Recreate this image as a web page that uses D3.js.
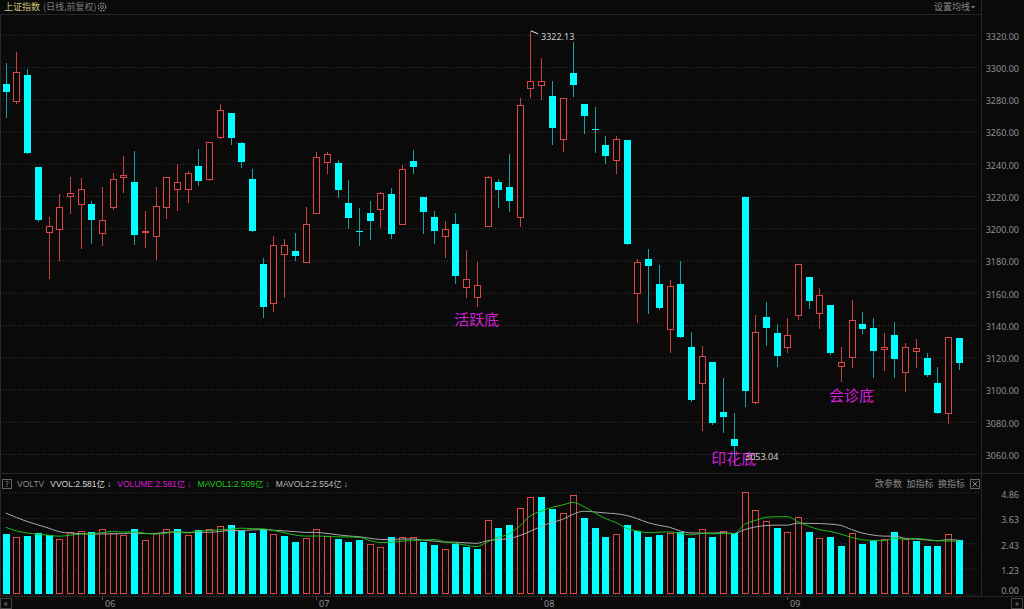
<!DOCTYPE html>
<html><head><meta charset="utf-8">
<script src="https://cdn.jsdelivr.net/npm/d3@7"></script>
<style>
html,body{margin:0;padding:0;background:#0a0a0a;overflow:hidden}
svg{display:block}
text{font-family:"Noto Sans CJK SC","Noto Sans",sans-serif}
.lat{font-family:"Liberation Sans","Noto Sans CJK SC",sans-serif}
</style></head><body>
<svg id="c" width="1024" height="609"></svg>
<script>
// ---- data (上证指数 daily) ----
const openP  = [3289.0,3278.4,3294.8,3237.7,3197.2,3199.1,3219.7,3214.8,3214.9,3196.6,
3212.7,3231.7,3228.6,3197.6,3194.9,3213.1,3223.9,3223.9,3238.3,3230.5,
3256.3,3271.0,3252.4,3230.1,3177.4,3153.2,3183.6,3185.6,3178.6,3209.0,
3241.0,3240.4,3215.6,3197.8,3209.0,3211.5,3220.8,3202.5,3241.4,3219.3,
3206.9,3194.9,3202.2,3163.5,3157.3,3201.3,3228.2,3225.5,3206.9,3286.9,
3288.4,3281.9,3254.9,3296.0,3276.8,3261.1,3251.2,3241.9,3254.4,3159.4,
3180.6,3165.0,3137.4,3165.3,3126.3,3103.6,3116.6,3086.0,3068.9,3219.3,
3091.8,3144.5,3134.6,3126.3,3145.9,3169.7,3147.3,3152.1,3114.3,3120.0,
3140.2,3138.0,3124.9,3133.5,3110.4,3123.8,3119.1,3103.6,3085.0,3131.5];
const highP  = [3302.0,3308.8,3298.3,3237.7,3206.9,3221.0,3231.3,3230.7,3216.4,3225.1,
3234.2,3244.3,3247.6,3210.6,3225.5,3231.7,3239.6,3235.2,3248.9,3253.0,
3276.8,3271.0,3253.0,3236.3,3181.1,3194.9,3192.9,3196.6,3213.1,3246.8,
3246.8,3242.0,3229.6,3212.1,3216.6,3222.0,3224.5,3239.0,3248.2,3219.3,
3210.4,3204.4,3209.0,3186.2,3179.0,3232.1,3230.1,3245.8,3280.3,3322.13,
3305.1,3291.0,3280.7,3315.0,3276.8,3274.7,3256.9,3256.9,3254.4,3180.6,
3186.7,3176.9,3167.6,3179.4,3135.2,3126.7,3116.6,3106.7,3085.0,3219.3,
3145.9,3153.8,3140.2,3143.9,3177.4,3169.7,3162.5,3152.1,3126.3,3155.2,
3147.8,3143.9,3134.9,3141.8,3128.7,3131.2,3122.2,3113.9,3132.5,3131.5];
const lowP   = [3268.5,3277.2,3246.4,3204.2,3169.1,3180.0,3209.4,3187.3,3190.4,3189.3,
3211.9,3222.0,3189.8,3188.3,3180.8,3206.3,3211.0,3216.0,3226.5,3229.7,
3255.5,3251.8,3237.9,3198.0,3144.5,3148.4,3157.3,3180.0,3178.6,3209.0,
3234.2,3219.3,3200.1,3189.3,3193.1,3200.7,3193.5,3202.2,3234.2,3196.6,
3190.4,3181.7,3166.0,3157.3,3151.5,3201.1,3213.1,3210.6,3201.3,3280.9,
3279.9,3252.0,3247.6,3281.7,3259.0,3247.2,3240.4,3234.2,3189.8,3141.8,
3147.3,3149.8,3123.2,3132.3,3092.5,3074.6,3078.2,3073.6,3053.04,3089.7,
3091.2,3127.3,3114.3,3123.2,3143.6,3150.5,3137.7,3121.6,3105.0,3113.9,
3134.6,3107.3,3111.8,3107.7,3099.0,3113.9,3108.1,3085.3,3079.1,3112.2];
const closeP = [3284.0,3296.4,3246.6,3204.8,3201.3,3212.7,3221.4,3223.9,3204.6,3204.7,
3230.1,3232.6,3195.7,3198.0,3213.5,3231.5,3228.6,3233.8,3229.2,3253.0,
3273.2,3255.9,3240.6,3198.0,3151.1,3189.6,3189.3,3182.7,3202.2,3243.7,
3245.6,3223.4,3205.9,3197.4,3204.2,3221.4,3196.3,3236.3,3237.9,3210.0,
3198.0,3199.1,3170.1,3168.1,3164.3,3231.7,3223.4,3216.6,3276.2,3291.2,
3291.0,3262.1,3280.7,3288.4,3269.2,3260.8,3244.7,3255.1,3189.8,3178.6,
3176.5,3150.5,3163.9,3132.3,3093.2,3120.5,3078.8,3082.9,3064.9,3099.0,
3135.6,3137.7,3120.5,3133.3,3177.4,3154.6,3158.1,3122.6,3117.0,3142.8,
3137.4,3123.6,3126.3,3118.5,3126.3,3125.3,3108.9,3085.3,3132.5,3116.0];
// volume (亿)
const volumes = [2.85,2.69,2.75,2.88,2.80,2.60,2.93,3.01,2.93,3.10,
2.88,2.79,3.07,2.58,2.91,3.10,3.10,2.79,3.02,3.10,
3.24,3.26,3.01,2.91,3.07,2.83,2.74,2.47,2.64,3.10,
2.75,2.61,2.45,2.55,2.36,2.23,2.71,2.72,2.69,2.48,
2.34,2.14,2.39,2.24,2.14,3.50,3.15,3.26,4.08,4.59,
4.59,4.05,3.83,4.69,3.59,3.15,2.69,2.85,3.29,3.01,
2.72,2.81,2.91,2.93,2.66,3.07,2.72,2.98,2.91,4.86,
3.99,3.47,3.12,2.93,3.64,2.93,2.66,2.69,2.29,2.88,
2.36,2.50,2.61,2.93,2.61,2.52,2.29,2.29,2.85,2.581];
// volumes of the days just before the visible window (used by the moving averages)
const prevVolumes = [4.85,4.65,4.45,4.35,4.35,3.55,3.25,3.15,3.05];
const priceTicks = [3060,3080,3100,3120,3140,3160,3180,3200,3220,3240,3260,3280,3300,3320];
const volTicks = [0,1.23,2.43,3.63,4.86];
const monthLabels = ["06","07","08","09"];
const monthStart = [9,29,50,73];
const bottomNames = ["活跃底","印花底","会诊底"];
const bottomIdx = [44,68,79];
const bottomPrice = [3143,3056.7,3095.7];
const highLabel = "3322.13", lowLabel = "3053.04";
const legendText = ["VOLTV","VVOL:2.581亿","VOLUME:2.581亿","MAVOL1:2.509亿","MAVOL2:2.554亿"];
const legendColor = ["#8a8a8a","#d8d8d8","#d21fd2","#1fc41f","#b8b8b8"];

// ---- drawing ----
const W=1024,H=609,BG="#0a0a0a";
const RED="#dc4646", RED_W="#c84040", CYAN="#00ffff", CYAN_W="#11a3a3";
const GRID="#3a3a3a", AXT="#8b9098", LINE="#262626";
const n = closeP.length;
const svg = d3.select("#c");
svg.append("rect").attr("width",W).attr("height",H).attr("fill",BG);

const PR = 981; // right edge of plots
const x  = d3.scaleLinear().domain([0,n-1]).range([5.7,958.7]);
const xs = i => Math.round(x(i));
const yP = d3.scaleLinear().domain([3060,3320]).range([453.5,34.3]);
const yV = d3.scaleLinear().domain([0,4.86]).range([594,491.7]);

// frame lines
svg.append("line").attr("x1",0).attr("x2",PR).attr("y1",14.5).attr("y2",14.5).attr("stroke",LINE);
svg.append("line").attr("x1",0).attr("x2",W).attr("y1",473.5).attr("y2",473.5).attr("stroke",LINE);
svg.append("line").attr("x1",PR+0.5).attr("x2",PR+0.5).attr("y1",0).attr("y2",597).attr("stroke",LINE);
svg.append("line").attr("x1",0.5).attr("x2",0.5).attr("y1",14).attr("y2",597).attr("stroke",LINE);
svg.append("line").attr("x1",0).attr("x2",W).attr("y1",596.5).attr("y2",596.5).attr("stroke",LINE);

// price grid + axis
const gridP = svg.append("g").call(d3.axisRight(yP).tickValues(priceTicks).tickSize(PR).tickFormat(""));
gridP.select(".domain").remove();
gridP.selectAll("line").attr("stroke",GRID).attr("stroke-dasharray","1,2").attr("transform","translate(0,0.5)");
const axP = svg.append("g").attr("transform",`translate(1019,2)`)
  .call(d3.axisLeft(yP).tickValues(priceTicks).tickSize(0).tickPadding(0).tickFormat(d=>d.toFixed(2)));
axP.select(".domain").remove();
axP.selectAll("text").attr("fill",AXT).attr("font-size",9).style("font-family","'Noto Sans',sans-serif");

// volume grid + axis
const gridV = svg.append("g").call(d3.axisRight(yV).tickValues(volTicks).tickSize(PR).tickFormat(""));
gridV.select(".domain").remove();
gridV.selectAll("line").attr("stroke",GRID).attr("stroke-dasharray","1,2").attr("transform","translate(0,0.5)");
const axV = svg.append("g").attr("transform",`translate(1019,0)`)
  .call(d3.axisLeft(yV).tickValues(volTicks).tickSize(0).tickPadding(0).tickFormat(d=>d.toFixed(2)));
axV.select(".domain").remove();
axV.selectAll(".tick").attr("transform",d=>`translate(0,${Math.min(yV(d)+3,591)})`);
axV.selectAll("text").attr("fill",AXT).attr("font-size",9).style("font-family","'Noto Sans',sans-serif");

// candles
const candles = d3.range(n).map(i=>({i,o:openP[i],h:highP[i],l:lowP[i],c:closeP[i]}));
const cg = svg.append("g").selectAll("g").data(candles).join("g");
cg.append("line")
  .attr("x1",d=>xs(d.i)+0.5).attr("x2",d=>xs(d.i)+0.5)
  .attr("y1",d=>Math.round(yP(d.h))).attr("y2",d=>Math.round(yP(d.l))+1)
  .attr("stroke",d=>d.c>d.o?RED_W:CYAN_W);
cg.filter(d=>d.c>d.o).append("rect")
  .attr("x",d=>xs(d.i)-2.5).attr("width",6)
  .attr("y",d=>Math.round(yP(d.c))+0.5)
  .attr("height",d=>Math.max(Math.round(yP(d.o))-Math.round(yP(d.c)),1))
  .attr("fill",BG).attr("stroke",RED);
cg.filter(d=>d.c<=d.o).append("rect")
  .attr("x",d=>xs(d.i)-3).attr("width",7)
  .attr("y",d=>Math.round(yP(d.o)))
  .attr("height",d=>Math.max(Math.round(yP(d.c))-Math.round(yP(d.o)),1))
  .attr("fill",CYAN);

// volume bars (colour by close vs previous close)
const vols = volumes.map((v,i)=>({i,v,up: i>0 && closeP[i]>closeP[i-1]}));
const vg = svg.append("g");
vg.selectAll("rect.up").data(vols.filter(d=>d.up)).join("rect")
  .attr("x",d=>xs(d.i)-2.5).attr("width",6)
  .attr("y",d=>Math.round(yV(d.v))+0.5).attr("height",d=>Math.round(yV(0))-Math.round(yV(d.v))-1)
  .attr("fill",BG).attr("stroke",RED);
vg.selectAll("rect.dn").data(vols.filter(d=>!d.up)).join("rect")
  .attr("x",d=>xs(d.i)-3).attr("width",7)
  .attr("y",d=>Math.round(yV(d.v))).attr("height",d=>Math.round(yV(0))-Math.round(yV(d.v)))
  .attr("fill",CYAN);

// moving averages of volume
const allV = prevVolumes.concat(volumes), off = prevVolumes.length;
const ma = p => volumes.map((v,i)=>d3.mean(allV.slice(i+off-p+1,i+off+1)));
const lineGen = d3.line().x((d,i)=>x(i)).y(d=>yV(d)).curve(d3.curveMonotoneX);
svg.append("path").attr("d",lineGen(ma(10))).attr("fill","none").attr("stroke","#a8a8a8").attr("stroke-width",1);
svg.append("path").attr("d",lineGen(ma(5))).attr("fill","none").attr("stroke","#19c019").attr("stroke-width",1);

// bottom labels
const ann = svg.append("g");
bottomNames.forEach((t,k)=>{
  ann.append("text").attr("x",x(bottomIdx[k])).attr("y",yP(bottomPrice[k])).attr("dy","0.36em")
    .attr("text-anchor","middle").attr("font-size",15).attr("fill","#d21fd2").text(t);
});
// high / low markers
const hi = d3.maxIndex(highP), lo = d3.minIndex(lowP);
svg.append("path").attr("d",`M${xs(hi)+1},${yP(highP[hi])}l7,3`).attr("stroke","#e8e8e8").attr("fill","none");
svg.append("text").attr("x",xs(hi)+11).attr("y",yP(highP[hi])+6).attr("dy","0.35em")
  .attr("font-size",9).attr("fill","#d0d0d0").style("font-family","'Noto Sans',sans-serif").text(highLabel);
svg.append("text").attr("x",xs(lo)+11).attr("y",yP(lowP[lo])-8).attr("dy","0.35em")
  .attr("font-size",9).attr("fill","#d0d0d0").style("font-family","'Noto Sans',sans-serif").text(lowLabel);

// month axis
monthStart.forEach((s,k)=>{
  svg.append("line").attr("x1",xs(s)+0.5).attr("x2",xs(s)+0.5).attr("y1",597).attr("y2",600).attr("stroke","#555");
  svg.append("text").attr("x",xs(s)+3).attr("y",604).attr("dy","0.35em").attr("font-size",9)
    .attr("fill",AXT).style("font-family","'Noto Sans',sans-serif").text(monthLabels[k]);
});

// header
svg.append("text").attr("x",4).attr("y",7).attr("dy","0.36em").attr("font-size",9).attr("fill","#cfc27a").text("上证指数");
svg.append("text").attr("x",43).attr("y",7).attr("dy","0.36em").attr("font-size",9).attr("fill","#7d7d7d").text("(日线,前复权)");
svg.append("circle").attr("cx",102).attr("cy",7).attr("r",3.8).attr("fill","none").attr("stroke","#7d7d7d").attr("stroke-width",1.3).attr("stroke-dasharray","2,1");
svg.append("circle").attr("cx",102).attr("cy",7).attr("r",1.5).attr("fill","none").attr("stroke","#7d7d7d");
svg.append("text").attr("x",934).attr("y",7).attr("dy","0.36em").attr("font-size",9).attr("fill","#8a8a8a").text("设置均线");
svg.append("path").attr("d","M971,6h4l-2,2.5z").attr("fill","#8a8a8a");

// volume legend (laid out left to right)
svg.append("rect").attr("x",2.5).attr("y",479.5).attr("width",9).attr("height",9).attr("fill","none").attr("stroke","#666");
svg.append("text").attr("x",7).attr("y",484).attr("dy","0.36em").attr("text-anchor","middle").attr("font-size",8).attr("fill","#888").text("?");
let lx = 17;
legendText.forEach((t,k)=>{
  const tx = svg.append("text").attr("class","lat").attr("x",lx).attr("y",484).attr("dy","0.36em").attr("font-size",8.5)
    .attr("fill",legendColor[k]).text(t);
  lx += tx.node().getComputedTextLength();
  if(k>0){
    const ar = svg.append("text").attr("class","lat").attr("x",lx+2).attr("y",484).attr("dy","0.36em").attr("font-size",8.5)
      .attr("fill",legendColor[k]).text("↓");
    lx += 2 + ar.node().getComputedTextLength() + 6;
  } else lx += 6;
});
["改参数","加指标","换指标"].forEach((t,k)=>{
  svg.append("text").attr("x",875+k*31.5).attr("y",484).attr("dy","0.36em").attr("font-size",9).attr("fill","#8a8a8a").text(t);
});
svg.append("rect").attr("x",970.5).attr("y",479.5).attr("width",9).attr("height",9).attr("fill","none").attr("stroke","#666");
svg.append("path").attr("d","M972.5,481.5l5,5M977.5,481.5l-5,5").attr("stroke","#888");
// scroll buttons
svg.append("rect").attr("x",0.5).attr("y",598.5).attr("width",11).attr("height",10).attr("fill","none").attr("stroke","#444");
svg.append("text").attr("x",6).attr("y",603.5).attr("dy","0.36em").attr("text-anchor","middle").attr("font-size",9).attr("fill","#888").text("«");
svg.append("rect").attr("x",1011.5).attr("y",598.5).attr("width",11).attr("height",10).attr("fill","none").attr("stroke","#444");
svg.append("text").attr("x",1017).attr("y",603.5).attr("dy","0.36em").attr("text-anchor","middle").attr("font-size",9).attr("fill","#888").text("»");
</script>
</body></html>
